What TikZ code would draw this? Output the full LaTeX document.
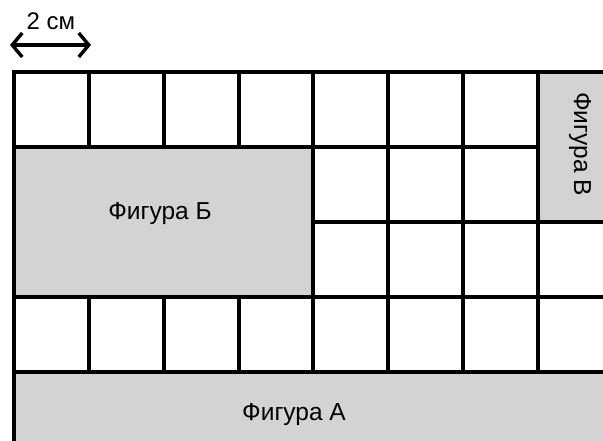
\documentclass[tikz,border=0pt]{standalone}
\usepackage{fontspec}
\setmainfont{Liberation Sans}
\usetikzlibrary{arrows.meta}
\definecolor{figgrey}{HTML}{D3D3D3}
\tikzset{
  gridline/.style={line width=4pt, line cap=rect},
  figure/.style={fill=figgrey},
  lbl/.style={font=\fontsize{24.5}{26}\selectfont, inner sep=0pt},
  dimlbl/.style={font=\fontsize{24}{26}\selectfont, inner sep=0pt},
  dim/.style={line width=3.4pt, {Straight Barb[length=10pt,width=24pt]}-{Straight Barb[length=10pt,width=24pt]}}
}
\begin{document}
\begin{tikzpicture}[x=1pt,y=-1pt]
\useasboundingbox (0,0) rectangle (603,441);
\begin{scope}
\clip (0,0) rectangle (603,441);
% grey figures
\fill[figure] (14,147) rectangle (313,297);
\fill[figure] (538,72) rectangle (613,222);
\fill[figure] (14,372) rectangle (613,460);
% horizontal lines
\draw[gridline] (14,72) -- (613,72);
\draw[gridline] (14,147) -- (538,147);
\draw[gridline] (313,222) -- (613,222);
\draw[gridline] (14,297) -- (613,297);
\draw[gridline] (14,372) -- (613,372);
% vertical lines
\draw[gridline] (14,72) -- (14,460);
\foreach \x in {89,164,239}{
  \draw[gridline] (\x,72) -- (\x,147);
  \draw[gridline] (\x,297) -- (\x,372);
}
\draw[gridline] (313,72) -- (313,372);
\draw[gridline] (388,72) -- (388,372);
\draw[gridline] (463,72) -- (463,372);
\draw[gridline] (538,72) -- (538,372);
\end{scope}
% labels
\node[lbl] (fb) at (160,214) {Фигура Б};
\node[lbl] (fa) at (294,415) {Фигура А};
\node[lbl, rotate=-90] (fv) at (580,144) {Фигура В};
% dimension
\coordinate (d1) at (10,45);
\coordinate (d2) at (91,45);
\draw[dim] (d1) -- (d2);
\node[dimlbl] (dl) at (51,21) {2 см};
\end{tikzpicture}
\end{document}
